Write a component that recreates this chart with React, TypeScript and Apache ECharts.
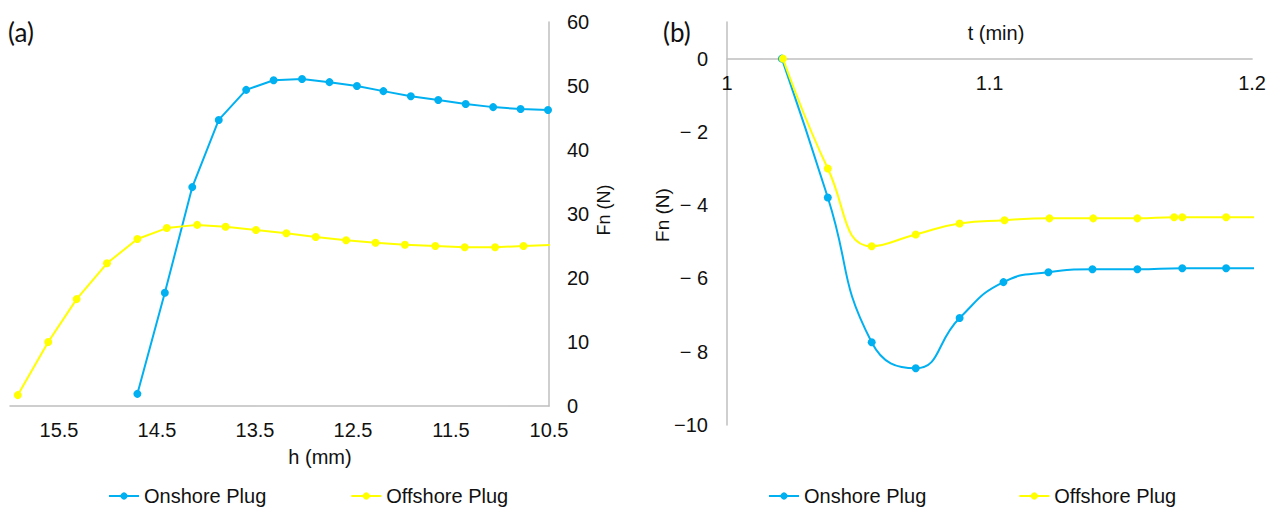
import React, { useEffect, useRef } from "react";
import * as echarts from "echarts";

// Panel (a): Fn vs h
const hOnshore = [14.70, 14.42, 14.14, 13.87, 13.59, 13.31, 13.02, 12.74, 12.46, 12.19, 11.91, 11.63, 11.35, 11.07, 10.79, 10.51];
const fnOnshoreA = [1.9, 17.7, 34.2, 44.7, 49.4, 50.9, 51.1, 50.6, 50.0, 49.2, 48.4, 47.8, 47.2, 46.7, 46.4, 46.25];
const hOffshore = [15.92, 15.61, 15.32, 15.01, 14.70, 14.40, 14.09, 13.80, 13.49, 13.18, 12.88, 12.57, 12.27, 11.97, 11.66, 11.36, 11.05, 10.76, 10.45];
const fnOffshoreA = [1.7, 10.0, 16.7, 22.3, 26.1, 27.8, 28.3, 28.0, 27.5, 27.0, 26.4, 25.9, 25.5, 25.2, 25.0, 24.8, 24.8, 25.0, 25.2];
const hTickLabels = [15.5, 14.5, 13.5, 12.5, 11.5, 10.5];

// Panel (b): Fn vs t
const tOnshore = [1.0209, 1.0384, 1.0551, 1.0719, 1.0886, 1.1053, 1.1224, 1.1392, 1.1563, 1.1734, 1.1901, 1.2070];
const fnOnshoreB = [0, -3.79, -7.74, -8.45, -7.08, -6.10, -5.83, -5.75, -5.75, -5.72, -5.72, -5.72];
const tOffshore = [1.0213, 1.0384, 1.0551, 1.0719, 1.0886, 1.1057, 1.1228, 1.1395, 1.1563, 1.1703, 1.1734, 1.1901, 1.2070];
const fnOffshoreB = [0, -3.0, -5.12, -4.80, -4.50, -4.41, -4.36, -4.36, -4.36, -4.33, -4.33, -4.33, -4.33];
const fnTickLabelsB = [0, -2, -4, -6, -8, -10];

const SERIES_NAMES = ["Onshore Plug", "Offshore Plug"];
const BLUE = "#00B0F0";
const YELLOW = "#FFFF00";
const AXIS_GRAY = "#BFBFBF";
const FONT = "'Liberation Sans', Arial, sans-serif";
const TEXT = "#111111";

const zip = (xs: number[], ys: number[]) => xs.map((x, i) => [x, ys[i]]);

export default function App() {
  const ref = useRef<HTMLDivElement>(null);
  useEffect(() => {
    if (!ref.current) return;
    const chart = echarts.init(ref.current, null, { renderer: "svg" });
    const lineSeries = (name: string, color: string, data: number[][], xi: number, smooth: boolean) => ({
      name,
      type: "line",
      xAxisIndex: xi,
      yAxisIndex: xi,
      data,
      smooth: smooth ? 0.5 : false,
      symbol: "circle",
      symbolSize: 8,
      clip: true,
      itemStyle: { color },
      lineStyle: { color, width: 2 },
    });
    const legendBase = {
      data: SERIES_NAMES,
      top: 486,
      padding: 0,
      itemWidth: 30,
      itemHeight: 9,
      textStyle: { fontFamily: FONT, fontSize: 20, color: TEXT },
    };
    const gridBTop = 22;
    const gridBHeight = 403;
    const yMinB = -10;
    const yMaxB = 1;
    const zeroOffset = (gridBHeight * yMaxB) / (yMaxB - yMinB);
    chart.setOption({
      animation: false,
      backgroundColor: "#ffffff",
      grid: [
        { left: 10, top: 22, width: 539, height: 384 },
        { left: 727, top: gridBTop, width: 526, height: gridBHeight },
      ],
      xAxis: [
        {
          type: "value",
          gridIndex: 0,
          min: 10.5,
          max: 16,
          inverse: true,
          position: "bottom",
          axisLine: { show: true, lineStyle: { color: AXIS_GRAY, width: 1.5 } },
          axisTick: { show: false },
          splitLine: { show: false },
          axisLabel: {
            customValues: hTickLabels,
            formatter: (v: number) => v.toFixed(1),
            fontFamily: FONT,
            fontSize: 20,
            color: TEXT,
            margin: 14,
          },
        },
        {
          type: "value",
          gridIndex: 1,
          min: 1,
          max: 1.2,
          interval: 0.1,
          position: "top",
          offset: -zeroOffset,
          axisLine: { show: true, onZero: false, lineStyle: { color: AXIS_GRAY, width: 1.5 } },
          axisTick: { show: false },
          splitLine: { show: false },
          axisLabel: {
            inside: true,
            fontFamily: FONT,
            fontSize: 20,
            color: TEXT,
            margin: 14,
          },
        },
      ],
      yAxis: [
        {
          type: "value",
          gridIndex: 0,
          position: "right",
          min: 0,
          max: 60,
          interval: 10,
          axisLine: { show: true, lineStyle: { color: AXIS_GRAY, width: 1.5 } },
          axisTick: { show: false },
          splitLine: { show: false },
          axisLabel: { fontFamily: FONT, fontSize: 20, color: TEXT, margin: 18 },
        },
        {
          type: "value",
          gridIndex: 1,
          min: yMinB,
          max: yMaxB,
          axisLine: { show: true, onZero: false, lineStyle: { color: AXIS_GRAY, width: 1.5 } },
          axisTick: { show: false },
          splitLine: { show: false },
          axisLabel: {
            customValues: fnTickLabelsB,
            formatter: (v: number) => (v === 0 ? "0" : v <= -10 ? "\u2212" + Math.abs(v) : "\u2212 " + Math.abs(v)),
            fontFamily: FONT,
            fontSize: 20,
            color: TEXT,
            margin: 19,
          },
        },
      ],
      legend: [
        { ...legendBase, left: 108, itemGap: 84 },
        { ...legendBase, left: 768, itemGap: 92 },
      ],
      graphic: [
        { type: "text", left: 8, top: 19, style: { text: "(a)", font: "26px Lato, 'Open Sans', sans-serif", fill: TEXT } },
        { type: "text", left: 663, top: 19, style: { text: "(b)", font: "26px Lato, 'Open Sans', sans-serif", fill: TEXT } },
        { type: "text", x: 320, y: 457, style: { text: "h (mm)", font: `20px ${FONT}`, fill: TEXT, align: "center", verticalAlign: "middle" } },
        { type: "text", x: 996, y: 33, style: { text: "t (min)", font: `20px ${FONT}`, fill: TEXT, align: "center", verticalAlign: "middle" } },
        { type: "text", x: 604, y: 210, rotation: Math.PI / 2, style: { text: "Fn (N)", font: `18px ${FONT}`, fill: TEXT, align: "center", verticalAlign: "middle" } },
        { type: "text", x: 662, y: 215, rotation: Math.PI / 2, style: { text: "Fn (N)", font: `19px ${FONT}`, fill: TEXT, align: "center", verticalAlign: "middle" } },
      ],
      series: [
        lineSeries(SERIES_NAMES[0], BLUE, zip(hOnshore, fnOnshoreA), 0, false),
        lineSeries(SERIES_NAMES[1], YELLOW, zip(hOffshore, fnOffshoreA), 0, false),
        lineSeries(SERIES_NAMES[0], BLUE, zip(tOnshore, fnOnshoreB), 1, true),
        lineSeries(SERIES_NAMES[1], YELLOW, zip(tOffshore, fnOffshoreB), 1, true),
      ],
    });
    return () => chart.dispose();
  }, []);
  return <div ref={ref} style={{ position: "fixed", left: 0, top: 0, width: 1269, height: 508, background: "#fff" }} />;
}
